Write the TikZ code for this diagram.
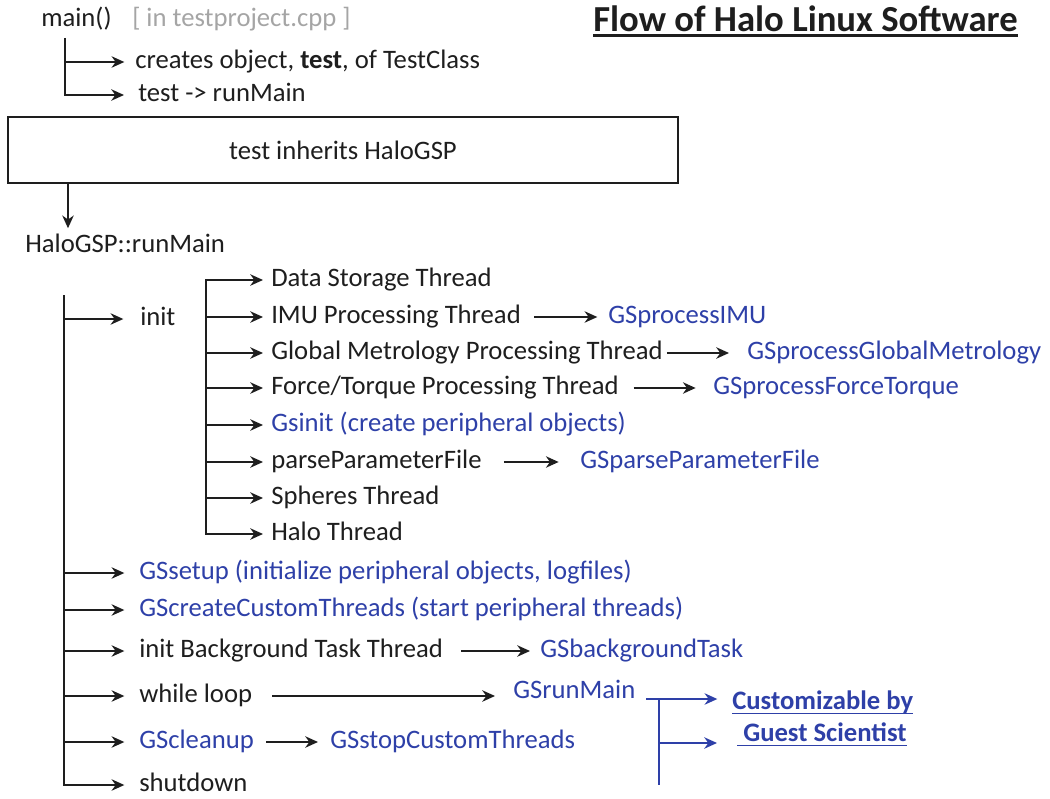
\documentclass[tikz,border=0pt]{standalone}
\usepackage{fontspec}
\setmainfont{Carlito}
\usetikzlibrary{arrows.meta,calc}
\definecolor{ink}{RGB}{30,30,30}
\definecolor{gsblue}{RGB}{46,64,168}
\definecolor{note}{RGB}{165,165,165}
\begin{document}
\begin{tikzpicture}[x=0.75pt,y=-0.75pt,
  every node/.style={font=\fontsize{20pt}{24pt}\selectfont},
  txt/.style={anchor=mid west,inner sep=0pt,text=ink},
  btxt/.style={txt,text=gsblue},
  tip/.tip={Stealth[length=9.5pt,width=8.5pt,inset=3pt]},
  ln/.style={draw=ink,line width=1.9pt},
  arr/.style={ln,-tip},
  bln/.style={draw=gsblue,line width=1.7pt},
  barr/.style={bln,-tip},
  twoarr/.style={ln,tip-tip}
]
% body font, so that the mid anchors sit at half x-height of the labels
\fontsize{20pt}{24pt}\selectfont
\useasboundingbox (0,0) rectangle (1050,799);

% title
\node[anchor=base west,inner sep=0pt,text=ink,font=\fontsize{27.5pt}{32pt}\selectfont\bfseries]
  (title) at (593,32) {Flow of Halo Linux Software};
\draw[ink,line width=1.8pt] ([yshift=-2.6pt]title.base west) -- ([yshift=-2.6pt]title.base east);

% main()
\node[txt] (main) at (41,20) {main()};
\node[txt,text=note] (where) at (132,20) {[ in testproject.cpp ]};
\node[txt] (obj) at (135,62) {creates object, \textbf{test}, of TestClass};
\node[txt] (run) at (138,95) {test -> runMain};
\coordinate (mx) at (65,38);
\draw[arr,shorten >=8pt] (mx |- obj.mid west) -- (obj.mid west);
\draw[arr,shorten >=10.5pt] (mx) -- (mx |- run.mid west) -- (run.mid west);

% inheritance box
\node[draw=ink,line width=1.2pt,minimum width=502.5pt,minimum height=49.5pt,inner sep=0pt,text=ink]
  (box) at (343,150) {test inherits HaloGSP};
\node[txt] (hg) at (25,246) {HaloGSP::runMain};
\coordinate (dx) at (68,200);
\draw[arr,shorten >=4pt] (box.south -| dx) -- (hg.north -| dx);

% runMain steps
\node[txt] (init) at (140,319) {init};
\node[btxt] (gss) at (139,573) {GSsetup (initialize peripheral objects, logfiles)};
\node[btxt] (gcc) at (139,610) {GScreateCustomThreads (start peripheral threads)};
\node[txt] (ibt) at (139,651) {init Background Task Thread};
\node[txt] (wl) at (139,696) {while loop};
\node[btxt] (gcl) at (139,742) {GScleanup};
\node[txt] (sd) at (139,785) {shutdown};

\coordinate (sx) at (64,295);
\draw[arr,shorten >=12.5pt] (sx |- init.mid west) -- (init.mid west);
\draw[arr,shorten >=11pt] (sx |- gss.mid west) -- (gss.mid west);
\draw[arr,shorten >=11pt] (sx |- gcc.mid west) -- (gcc.mid west);
\draw[arr,shorten >=11pt] (sx |- ibt.mid west) -- (ibt.mid west);
\draw[arr,shorten >=11pt] (sx |- wl.mid west) -- (wl.mid west);
\draw[arr,shorten >=11pt] (sx |- gcl.mid west) -- (gcl.mid west);
\draw[arr,shorten >=11pt] (sx) -- (sx |- sd.mid west) -- (sd.mid west);

% init threads
\node[txt] (ds) at (271,280) {Data Storage Thread};
\node[txt] (imu) at (271,317) {IMU Processing Thread};
\node[txt] (gm) at (271,353) {Global Metrology Processing Thread};
\node[txt] (ft) at (271,388) {Force/Torque Processing Thread};
\node[btxt] (gsi) at (271,425) {Gsinit (create peripheral objects)};
\node[txt] (ppf) at (271,462) {parseParameterFile};
\node[txt] (sph) at (271,498) {Spheres Thread};
\node[txt] (halo) at (271,534) {Halo Thread};

\coordinate (ix) at (206,400);
\draw[twoarr,shorten <=6pt,shorten >=6pt]
  (ds.mid west) -- (ds.mid west -| ix) -- (halo.mid west -| ix) -- (halo.mid west);
\foreach \n in {imu,gm,ft,gsi,ppf,sph}
  \draw[arr,shorten >=6pt] (ix |- \n.mid west) -- (\n.mid west);

% GS hooks
\node[btxt] (gpi) at (608,317) {GSprocessIMU};
\node[btxt] (ggm) at (747,353) {GSprocessGlobalMetrology};
\node[btxt] (gft) at (713,388) {GSprocessForceTorque};
\node[btxt] (gpp) at (580,462) {GSparseParameterFile};
\node[btxt] (gbt) at (540,651) {GSbackgroundTask};
\node[btxt] (grm) at (513,692) {GSrunMain};
\node[btxt] (gsc) at (330,742) {GSstopCustomThreads};

\draw[arr,shorten <=10pt,shorten >=8pt] (imu.mid east) -- (imu.mid east -| gpi.mid west);
\draw[arr,shorten <=3pt,shorten >=13.5pt] (gm.mid east) -- (gm.mid east -| ggm.mid west);
\draw[arr,shorten <=11pt,shorten >=13pt] (ft.mid east) -- (ft.mid east -| gft.mid west);
\draw[arr,shorten <=16.5pt,shorten >=16pt] (ppf.mid east) -- (ppf.mid east -| gpp.mid west);
\draw[arr,shorten <=13.5pt,shorten >=7.5pt] (ibt.mid east) -- (ibt.mid east -| gbt.mid west);
\draw[arr,shorten <=15pt,shorten >=13.5pt] (wl.mid east) -- (wl.mid east -| grm.mid west);
\draw[arr,shorten <=9pt,shorten >=9pt] (gcl.mid east) -- (gcl.mid east -| gsc.mid west);

% guest scientist bracket
\node[btxt,font=\fontsize{20pt}{24pt}\selectfont\bfseries] (cb) at (732,703) {Customizable by};
\node[btxt,font=\fontsize{20pt}{24pt}\selectfont\bfseries] (gs) at (743,735) {Guest Scientist};
\coordinate (bt) at (659,699);
\coordinate (bm) at (659,743);
\coordinate (bb) at (659,785);
\draw[barr,shorten >=11pt] ($(grm.east |- bt)+(8pt,0)$) -- (bt -| cb.mid west);
\draw[bln] (bt) -- (bb);
\draw[barr,shorten >=19.5pt] (bm) -- (bm -| gs.mid west);
\draw[gsblue,line width=1.3pt] ([yshift=-3pt]cb.base west) -- ([yshift=-3pt]cb.base east);
\draw[gsblue,line width=1.3pt] ([xshift=-4.5pt,yshift=-3pt]gs.base west) -- ([yshift=-3pt]gs.base east);
\end{tikzpicture}
\end{document}
